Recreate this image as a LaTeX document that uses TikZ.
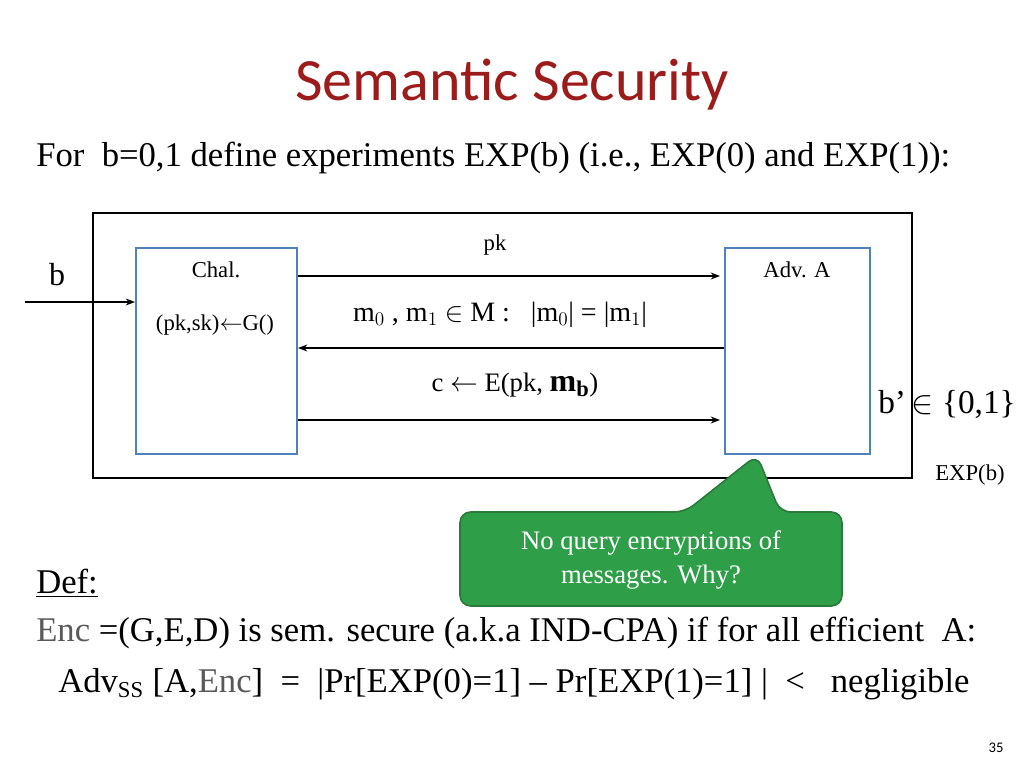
\documentclass[tikz,border=0pt]{standalone}
\usepackage{fontspec}
\setmainfont{Liberation Serif}
\newfontfamily\calib{Carlito}
\usetikzlibrary{arrows.meta}
\definecolor{titlered}{HTML}{9C1B1B}
\definecolor{boxblue}{HTML}{4F81BD}
\definecolor{callgreen}{HTML}{2E9E48}
\definecolor{calledge}{HTML}{2A7A3A}
\begin{document}
\begin{tikzpicture}[x=0.75pt,y=-0.75pt,
  pbox/.style={draw=boxblue,line width=1.5pt},
  msg/.style={-{Stealth[length=7pt]},line width=0.8pt},
  lbl/.style={font=\fontsize{17}{20}\selectfont},
  body/.style={font=\fontsize{26}{30}\selectfont,anchor=west,inner sep=0pt}]
\useasboundingbox (0,0) rectangle (1024,768);
\node[font=\calib\fontsize{45}{50}\selectfont,text=titlered] (title) at (512,85) {Semantic Security};
\node[body] (for) at (36,158) {For\ \ b=0,1 define experiments EXP(b) (i.e., EXP(0) and EXP(1)):};
\draw[line width=0.8pt] (93,213) rectangle (912,478);
\node[pbox,minimum width=120.75pt,minimum height=154.5pt,anchor=north west] (chal) at (135,247) {};
\node[pbox,minimum width=108.75pt,minimum height=154.5pt,anchor=north west] (adv) at (724,247) {};
\node[lbl] (chl) at (216,270) {Chal.};
\node[lbl] (gen) at (215,325) {(pk,sk)\(\leftarrow\)G()};
\node[lbl] (advl) at (797,270) {Adv. A};
\node[font=\fontsize{24}{28}\selectfont] (b) at (57,275) {b};
\coordinate (bin) at (25,302);
\draw[msg] (bin) -- (chal.west|-bin);
\coordinate (p1) at (298,276); \coordinate (p2) at (720,276);
\draw[msg] (p1) -- (p2);
\node[lbl] (pk) at (495,245) {pk};
\node[font=\fontsize{21}{24}\selectfont] (mm) at (500,315) {m\(_0\) , m\(_1\) \(\in\) M :\ \ \ |m\(_0\)| = |m\(_1\)|};
\coordinate (q1) at (724,348); \coordinate (q2) at (298,348);
\draw[msg] (q1) -- (q2);
\node[font=\fontsize{20}{24}\selectfont] (cc) at (515,385) {c \(\leftarrow\) E(pk, {\fontsize{24}{26}\selectfont\bfseries m\(_{\mathbf b}\)})};
\coordinate (r1) at (298,420); \coordinate (r2) at (720,420);
\draw[msg] (r1) -- (r2);
\node[font=\fontsize{25}{30}\selectfont] (bp) at (947,404) {b\textquoteright\,\(\in\) \{0,1\}};
\node[lbl] (expb) at (970,475) {EXP(b)};
\draw[rounded corners=8pt,fill=callgreen,draw=calledge,line width=1.2pt]
  (460,512) -- (685,512) -- (757,455) -- (780,512) -- (842,512) -- (842,606) -- (460,606) -- cycle;
\node[text=white,align=center,font=\fontsize{20}{25}\selectfont] (call) at (651,560) {No query encryptions of\\messages. Why?};
\node[body] (def) at (36,583) {\underline{Def:}};
\node[body] (sec) at (36,633) {{\color{gray!70!black}\textsc{Enc}} =(G,E,D) is sem. secure (a.k.a IND-CPA) if for all efficient\ \ A:};
\node[body] (adv2) at (58,684) {Adv\(_{\mbox{\fontsize{17}{18}\selectfont SS}}\) [A,{\color{gray!70!black}\textsc{Enc}}]\ \ =\ \ |Pr[EXP(0)=1] -- Pr[EXP(1)=1] |\ \ <\ \ \ negligible};
\node[font=\calib\fontsize{11}{13}\selectfont] (pg) at (996,748) {35};
\end{tikzpicture}
\end{document}
